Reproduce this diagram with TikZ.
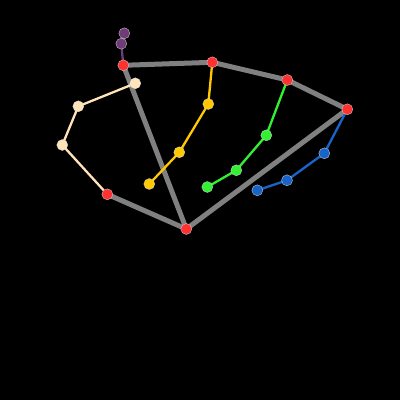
\documentclass[tikz,border=0pt]{standalone}
\begin{document}
\begin{tikzpicture}[x=1pt,y=-1pt,
  kp/.style={circle,inner sep=0pt,minimum size=11pt,draw=white!85!black,line width=0.3pt},
  bone/.style={line width=5pt,draw=gray},
  finger/.style={line width=2.3pt}]
\definecolor{kred}{RGB}{255,50,50}
\definecolor{kbeige}{RGB}{255,228,185}
\definecolor{kyellow}{RGB}{255,200,0}
\definecolor{kgreen}{RGB}{50,240,50}
\definecolor{kblue}{RGB}{25,100,200}
\definecolor{kpurple}{RGB}{112,60,120}
\fill[black] (0,0) rectangle (400,400);
\useasboundingbox (0,0) rectangle (400,400);
% coordinates
\coordinate (r1) at (123.3,65.3);
\coordinate (r2) at (212.3,62.3);
\coordinate (r3) at (287.3,80);
\coordinate (r4) at (347.3,109.3);
\coordinate (r5) at (186.3,229);
\coordinate (r6) at (107.3,194.3);
\coordinate (p1) at (124.3,33.3);
\coordinate (p2) at (121.3,43.7);
\coordinate (b1) at (135.3,83.3);
\coordinate (b2) at (78.3,106.3);
\coordinate (b3) at (62.3,145);
\coordinate (y1) at (208.3,104);
\coordinate (y2) at (179.3,152.3);
\coordinate (y3) at (149.3,184);
\coordinate (g1) at (266.3,135.3);
\coordinate (g2) at (236.3,170.3);
\coordinate (g3) at (207.3,187);
\coordinate (u1) at (324.3,153.3);
\coordinate (u2) at (287,180.3);
\coordinate (u3) at (257.3,190.3);
% bones
\draw[bone] (r1) -- (r2) -- (r3) -- (r4) -- (r5) -- (r6);
\draw[bone] (r1) -- (r5);
% fingers
\draw[finger,kpurple] (p1) -- (p2) -- (r1);
\draw[finger,kbeige] (b1) -- (b2) -- (b3) -- (r6);
\draw[finger,kyellow] (r2) -- (y1) -- (y2) -- (y3);
\draw[finger,kgreen] (r3) -- (g1) -- (g2) -- (g3);
\draw[finger,kblue] (r4) -- (u1) -- (u2) -- (u3);
% keypoints
\foreach \c in {r1,r2,r3,r4,r5,r6} \node[kp,fill=kred] (n\c) at (\c) {};
\foreach \c in {p1,p2} \node[kp,fill=kpurple] (n\c) at (\c) {};
\foreach \c in {b1,b2,b3} \node[kp,fill=kbeige] (n\c) at (\c) {};
\foreach \c in {y1,y2,y3} \node[kp,fill=kyellow] (n\c) at (\c) {};
\foreach \c in {g1,g2,g3} \node[kp,fill=kgreen] (n\c) at (\c) {};
\foreach \c in {u1,u2,u3} \node[kp,fill=kblue] (n\c) at (\c) {};
\end{tikzpicture}
\end{document}
